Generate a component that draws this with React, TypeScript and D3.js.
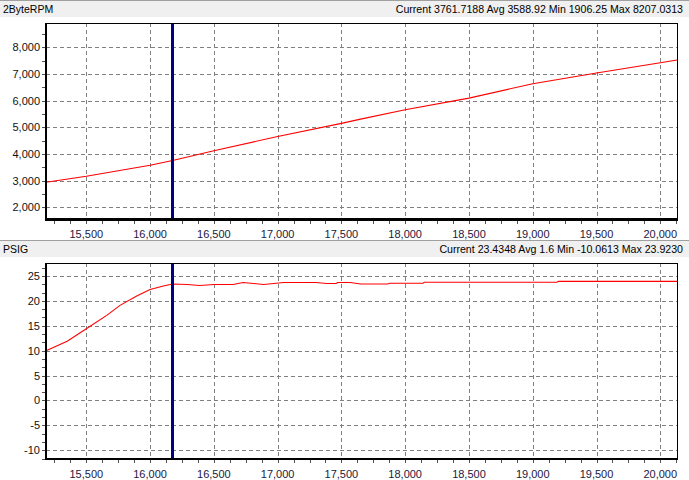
import React from "react";
import * as d3 from "d3";

const W = 689;
const H = 480;

// shared x domain (time / sample index)
const xDomain = [15184, 20131];
const xTickValues = [15500, 16000, 16500, 17000, 17500, 18000, 18500, 19000, 19500, 20000];
const cursorX = 16176;

// 2ByteRPM series
const rpmTitle = "2ByteRPM";
const rpmStats = "Current 3761.7188 Avg 3588.92 Min 1906.25 Max 8207.0313";
const rpmX = [15184, 15500, 16000, 16176, 16500, 17000, 17500, 17650, 18000, 18500, 19000, 19500, 20000, 20131];
const rpmY = [2948, 3172, 3585, 3762, 4124, 4660, 5150, 5311, 5660, 6097, 6637, 7037, 7425, 7525];
const rpmDomain = [1550, 8900];
const rpmTicks = [2000, 3000, 4000, 5000, 6000, 7000, 8000];

// PSIG series
const psigTitle = "PSIG";
const psigStats = "Current 23.4348 Avg 1.6 Min -10.0613 Max 23.9230";
const psigX = [15184, 15350, 15500, 15660, 15764, 15895, 16000, 16104, 16176, 16290, 16390, 16500, 16650, 16730, 16810, 16890, 16970, 17045, 17300, 17385, 17460, 17470, 17570, 17650, 17860, 17880, 18140, 18150, 19190, 19200, 20131];
const psigY = [10.0, 11.9, 14.4, 17.1, 19.1, 21.0, 22.3, 23.0, 23.4, 23.3, 23.1, 23.3, 23.3, 23.7, 23.5, 23.3, 23.5, 23.7, 23.7, 23.5, 23.5, 23.7, 23.7, 23.4, 23.4, 23.55, 23.55, 23.75, 23.75, 23.92, 23.92];
const psigDomain = [-11.75, 27.55];
const psigTicks = [-10, -5, 0, 5, 10, 15, 20, 25];

const FONT = "'Liberation Sans', Arial, sans-serif";

type PanelProps = {
  top: number;
  title: string;
  stats: string;
  xs: number[];
  ys: number[];
  yDomain: number[];
  yTicks: number[];
  yMinorStep: number;
  plotTop: number;
  plotBottom: number;
  labelY: number;
};

const d3fmt = d3.format(",");
const fmt = (v: number) => d3fmt(v).replace("\u2212", "-");

function Panel(p: PanelProps) {
  const left = 46;
  const right = 677;
  const x = d3.scaleLinear().domain(xDomain).range([left, right]);
  const y = d3.scaleLinear().domain(p.yDomain).range([p.plotBottom, p.plotTop]);
  const line = d3
    .line<number>()
    .x((_, i) => x(p.xs[i]))
    .y((d) => y(d));
  const xMinor = d3.range(15000, 20200, 125).filter((v) => v >= xDomain[0] && v <= xDomain[1]);
  const yStart = Math.ceil(p.yDomain[0] / p.yMinorStep - 1e-9);
  const yMinor: number[] = [];
  for (let k = yStart; k * p.yMinorStep <= p.yDomain[1]; k++) yMinor.push(k * p.yMinorStep);
  const cx = x(cursorX);
  return (
    <g>
      {/* header */}
      <rect x={0} y={p.top} width={W} height={17} fill="#f0f0f0" />
      <line x1={0} x2={W} y1={p.top + 0.5} y2={p.top + 0.5} stroke="#a0a0a0" />
      <text x={3} y={p.top + 13} fontFamily={FONT} fontSize={10.5} fill="#000">
        {p.title}
      </text>
      <text x={683} y={p.top + 13} fontFamily={FONT} fontSize={10.6} fill="#000" textAnchor="end">
        {p.stats}
      </text>
      {/* plot background */}
      <rect x={left} y={p.plotTop} width={right - left} height={p.plotBottom - p.plotTop} fill="#fff" />
      {/* grid */}
      {xTickValues.map((v) => (
        <line
          key={"gx" + v}
          x1={Math.round(x(v)) + 0.5}
          x2={Math.round(x(v)) + 0.5}
          y1={p.plotTop}
          y2={p.plotBottom}
          stroke="#808080"
          strokeDasharray="4,3"
          shapeRendering="crispEdges"
        />
      ))}
      {p.yTicks.map((v) => (
        <line
          key={"gy" + v}
          x1={left}
          x2={right}
          y1={Math.round(y(v)) + 0.5}
          y2={Math.round(y(v)) + 0.5}
          stroke="#808080"
          strokeDasharray="4,3"
          shapeRendering="crispEdges"
        />
      ))}
      {/* series */}
      <path d={line(p.ys) || ""} fill="none" stroke="#ff0000" strokeWidth={1.1} />
      {/* cursor */}
      <line x1={cx} x2={cx} y1={p.plotTop} y2={p.plotBottom} stroke="#000080" strokeWidth={3} shapeRendering="crispEdges" />
      {/* border */}
      <line x1={left} x2={right} y1={Math.round(p.plotTop) + 0.5} y2={Math.round(p.plotTop) + 0.5} stroke="#000" shapeRendering="crispEdges" />
      <line x1={right + 0.5} x2={right + 0.5} y1={p.plotTop} y2={p.plotBottom} stroke="#000" shapeRendering="crispEdges" />
      <line x1={left} x2={left} y1={p.plotTop} y2={p.plotBottom + 1} stroke="#000" strokeWidth={2.5} shapeRendering="crispEdges" />
      <line x1={left - 1} x2={right + 1} y1={p.plotBottom} y2={p.plotBottom} stroke="#000" strokeWidth={2.5} shapeRendering="crispEdges" />
      {/* minor ticks */}
      {xMinor.map((v) => (
        <line key={"mx" + v} x1={Math.round(x(v)) + 0.5} x2={Math.round(x(v)) + 0.5} y1={p.plotBottom + 1} y2={p.plotBottom + 4} stroke="#555" shapeRendering="crispEdges" />
      ))}
      {yMinor.map((v) => (
        <line key={"my" + v} x1={left - 4} x2={left - 1} y1={Math.round(y(v)) + 0.5} y2={Math.round(y(v)) + 0.5} stroke="#555" shapeRendering="crispEdges" />
      ))}
      {/* tick labels */}
      {xTickValues.map((v) => (
        <text key={"lx" + v} x={x(v)} y={p.labelY} textAnchor="middle" fontFamily={FONT} fontSize={11} fill="#1c1840">
          {fmt(v)}
        </text>
      ))}
      {p.yTicks.map((v) => (
        <text key={"ly" + v} x={40} y={y(v) + 4} textAnchor="end" fontFamily={FONT} fontSize={11} fill="#111">
          {fmt(v)}
        </text>
      ))}
    </g>
  );
}

export default function App() {
  return (
    <svg
      width={W}
      height={H}
      style={{ position: "absolute", left: 0, top: 0, background: "#fff" }}
      xmlns="http://www.w3.org/2000/svg"
    >
      <rect width={W} height={H} fill="#fff" />
      <Panel
        top={0}
        title={rpmTitle}
        stats={rpmStats}
        xs={rpmX}
        ys={rpmY}
        yDomain={rpmDomain}
        yTicks={rpmTicks}
        yMinorStep={500}
        plotTop={23.3}
        plotBottom={219.5}
        labelY={238}
      />
      <Panel
        top={240}
        title={psigTitle}
        stats={psigStats}
        xs={psigX}
        ys={psigY}
        yDomain={psigDomain}
        yTicks={psigTicks}
        yMinorStep={5 / 3}
        plotTop={263.3}
        plotBottom={459}
        labelY={478}
      />
    </svg>
  );
}
